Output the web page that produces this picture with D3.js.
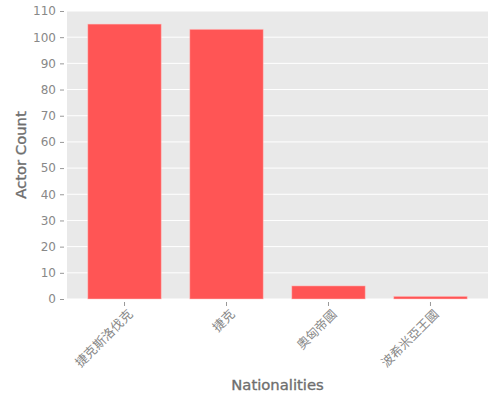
<!DOCTYPE html>
<html><head><meta charset="utf-8">
<script src="https://cdn.jsdelivr.net/npm/d3@7"></script>
<style>body{margin:0;background:#fff}svg{display:block}</style>
</head><body>
<script>
const categories = ["捷克斯洛伐克", "捷克", "奧匈帝國", "波希米亞王國"];
const values = [105, 103, 5, 1];
const yTicks = [0,10,20,30,40,50,60,70,80,90,100,110];

const W = 500, H = 400;
const m = {l: 67, r: 12, t: 11, b: 101};
const svg = d3.select("body").append("svg").attr("width", W).attr("height", H);
const x = d3.scaleBand().domain(categories).range([m.l, W - m.r]).paddingInner(0.28).paddingOuter(0.204);
const y = d3.scaleLinear().domain([0, 110]).range([H - m.b, m.t]);

svg.append("rect").attr("x", m.l).attr("y", m.t).attr("width", W - m.r - m.l).attr("height", H - m.b - m.t).attr("fill", "#e9e9e9");

svg.append("g").selectAll("line").data(yTicks).join("line")
  .attr("x1", m.l).attr("x2", W - m.r).attr("y1", d => y(d)).attr("y2", d => y(d))
  .attr("stroke", "#fff").attr("stroke-width", 1);

svg.append("g").selectAll("rect").data(values).join("rect")
  .attr("x", (d, i) => x(categories[i])).attr("width", x.bandwidth())
  .attr("y", d => y(d)).attr("height", d => y(0) - y(d))
  .attr("fill", "#ff5555").attr("stroke", "rgba(255,200,200,0.6)").attr("stroke-width", 0.8);

const yAxis = svg.append("g").attr("transform", `translate(${m.l - 3},0)`)
  .call(d3.axisLeft(y).tickValues(yTicks).tickSize(4).tickPadding(4));
yAxis.select(".domain").remove();
yAxis.selectAll("line").attr("stroke", "#999");
yAxis.selectAll("text").attr("fill", "#888").attr("font-family", "DejaVu Sans").attr("font-size", 12);

const xAxis = svg.append("g").attr("transform", `translate(0,${H - m.b + 3})`)
  .call(d3.axisBottom(x).tickSize(4).tickPadding(6));
xAxis.select(".domain").remove();
xAxis.selectAll("line").attr("stroke", "#999");
xAxis.selectAll("text").attr("fill", "#888").attr("font-family", "Noto Sans CJK TC").attr("font-size", 12.5)
  .attr("text-anchor", "end").attr("x", 0).attr("y", 0).attr("dy", 0)
  .attr("transform", "translate(9,13) rotate(-45)");

svg.append("text").attr("x", (m.l + W - m.r) / 2).attr("y", 390).attr("text-anchor", "middle")
  .attr("font-family", "DejaVu Sans").attr("font-size", 14.8).attr("fill", "#6e6e6e")
  .attr("stroke", "#6e6e6e").attr("stroke-width", 0.35)
  .text("Nationalities");
svg.append("text").attr("transform", `translate(26,${(m.t + H - m.b) / 2}) rotate(-90)`).attr("text-anchor", "middle")
  .attr("font-family", "DejaVu Sans").attr("font-size", 14.8).attr("fill", "#6e6e6e")
  .attr("stroke", "#6e6e6e").attr("stroke-width", 0.35)
  .text("Actor Count");
</script>
</body></html>
